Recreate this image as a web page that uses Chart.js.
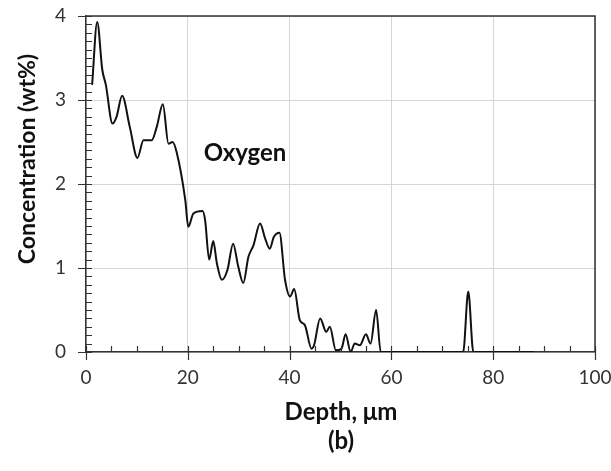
<!DOCTYPE html>
<html>
<head>
<meta charset="utf-8">
<script src="https://cdn.jsdelivr.net/npm/chart.js@4"></script>
<style>
  html, body { margin: 0; padding: 0; background: #fff; }
  #wrap { width: 611px; height: 471px; }
</style>
</head>
<body>
<div id="wrap"><canvas id="chart" width="611" height="471"></canvas></div>
<script>
// Oxygen depth profile (b)
const depth = [1.2, 2.2, 3.2, 3.9, 5.2, 6.0, 7.1, 8.6, 10.1, 11.3, 12.9, 13.9, 15.1, 16.2, 17.0, 17.8, 19.5,
  20.1, 21.1, 22.9, 23.4, 24.2, 25.0, 25.7, 26.7, 27.8, 28.9, 29.9, 30.9, 31.9, 32.9, 34.2, 35.2, 36.1,
  36.9, 38.0, 39.1, 40.1, 40.9, 42.0, 43.0, 44.3, 44.8, 46.0, 47.2, 47.9, 49.1, 50.2, 51.0, 52.0, 52.8,
  53.8, 55.0, 55.9, 57.0, 57.9, 65, 74.1, 75.1, 76.1, 88];
const oxygen = [3.18, 3.93, 3.36, 3.18, 2.72, 2.80, 3.05, 2.68, 2.31, 2.52, 2.52, 2.68, 2.95, 2.48, 2.50, 2.38, 1.81,
  1.49, 1.65, 1.68, 1.57, 1.10, 1.32, 1.06, 0.86, 0.98, 1.29, 1.02, 0.82, 1.13, 1.27, 1.53, 1.35, 1.23,
  1.37, 1.42, 0.86, 0.66, 0.75, 0.38, 0.32, 0.04, 0.08, 0.40, 0.24, 0.30, 0.02, 0.04, 0.21, 0.0, 0.10,
  0.08, 0.21, 0.10, 0.50, 0.0, 0, 0, 0.72, 0, 0];

const xTicks = [0, 20, 40, 60, 80, 100];
const yTicks = [0, 1, 2, 3, 4];

const axisColor = '#333';
const tickFont = { family: 'Lato', size: 19 };

// tick marks (inside minors, crossing majors), box border and text labels
const decor = {
  id: 'decor',
  afterDraw(chart) {
    const { ctx, chartArea: a, scales: { x, y } } = chart;
    ctx.save();
    ctx.strokeStyle = axisColor;
    ctx.lineWidth = 1.2;
    ctx.beginPath();
    for (let i = 0; i <= 40; i++) {
      const py = Math.round(y.getPixelForValue(i / 10)) + 0.5;
      const major = i % 10 === 0;
      ctx.moveTo(a.left - (major ? 8 : 0), py);
      ctx.lineTo(a.left + 6, py);
    }
    for (let i = 0; i <= 20; i++) {
      const px = Math.round(x.getPixelForValue(i * 5)) + 0.5;
      const major = i % 4 === 0;
      ctx.moveTo(px, a.bottom + (major ? 8 : 0));
      ctx.lineTo(px, a.bottom - 6);
    }
    ctx.stroke();

    // top / right frame
    ctx.lineWidth = 1.5;
    ctx.beginPath();
    ctx.moveTo(a.left, a.top);
    ctx.lineTo(a.right, a.top);
    ctx.lineTo(a.right, a.bottom);
    ctx.stroke();

    ctx.fillStyle = '#111';
    ctx.textAlign = 'center';
    ctx.textBaseline = 'middle';
    ctx.font = 'bold 24px Lato';
    ctx.fillText('Depth, \u03bcm', 341, 412);
    ctx.fillText('(b)', 341, 441);
    ctx.fillText('Oxygen', 245, 153);

    ctx.font = 'bold 23px Lato';
    ctx.translate(28, 159);
    ctx.rotate(-Math.PI / 2);
    ctx.fillText('Concentration (wt%)', 0, 0);
    ctx.restore();
  }
};

new Chart(document.getElementById('chart'), {
  type: 'line',
  data: {
    datasets: [{
      label: 'Oxygen',
      data: depth.map((d, i) => ({ x: d, y: oxygen[i] })),
      borderColor: '#111',
      borderWidth: 2,
      pointRadius: 0,
      fill: false,
      cubicInterpolationMode: 'monotone',
    }],
  },
  options: {
    responsive: false,
    animation: false,
    layout: { padding: { top: 16, right: 16, left: 0, bottom: 0 } },
    plugins: { legend: { display: false }, tooltip: { enabled: false } },
    scales: {
      x: {
        type: 'linear',
        min: 0,
        max: 100,
        afterBuildTicks: s => { s.ticks = xTicks.map(v => ({ value: v })); },
        afterFit: s => { s.height = 119; s.paddingLeft = 0; s.paddingRight = 0; },
        ticks: { color: axisColor, font: tickFont, padding: 14, maxRotation: 0 },
        grid: { color: '#d6d6d6', drawTicks: false },
        border: { color: axisColor, width: 1.5 },
      },
      y: {
        min: 0,
        max: 4,
        afterBuildTicks: s => { s.ticks = yTicks.map(v => ({ value: v })); },
        afterFit: s => { s.width = 86; s.paddingTop = 0; s.paddingBottom = 0; },
        ticks: { color: axisColor, font: tickFont, padding: 20 },
        grid: { color: '#d6d6d6', drawTicks: false },
        border: { color: axisColor, width: 1.5 },
      },
    },
  },
  plugins: [decor],
});
</script>
</body>
</html>
